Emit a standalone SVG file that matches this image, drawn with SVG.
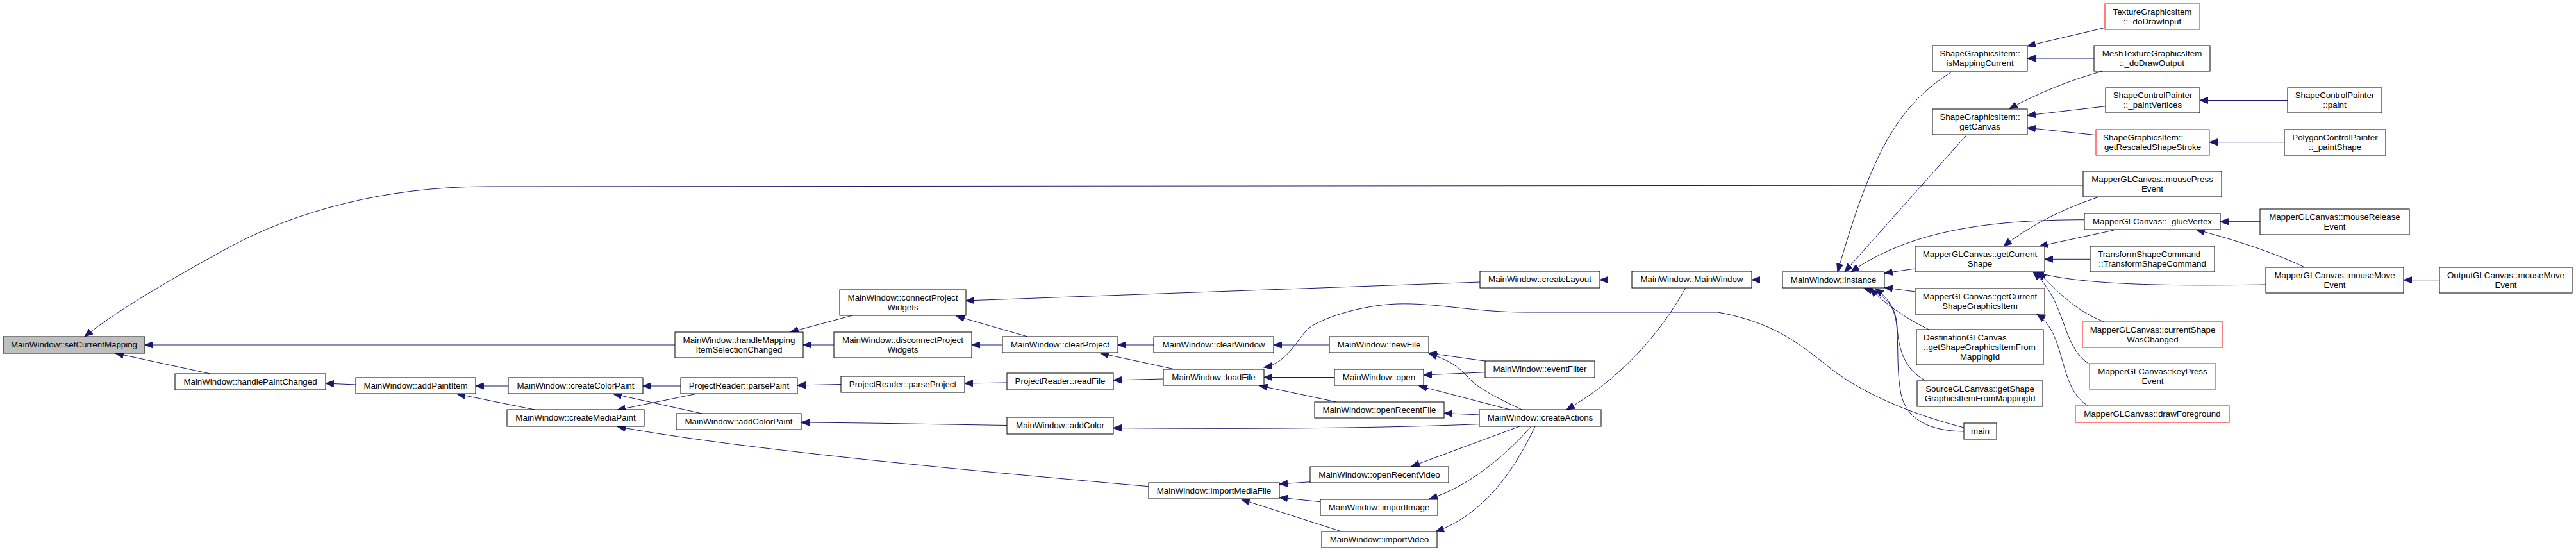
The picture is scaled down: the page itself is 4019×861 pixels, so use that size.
<svg xmlns="http://www.w3.org/2000/svg" width="4019" height="861" viewBox="0 0 4019 861">
<defs>
<style>
.n rect{fill:#fff;stroke:#000;stroke-width:1}
.r rect{stroke:#f00}
.g rect{fill:#bfbfbf}
text{font-family:"Liberation Sans",Arial,sans-serif;font-size:13.33px;fill:#000;text-anchor:middle}
text.l{text-anchor:start}
#edges path{fill:none;stroke:#191970;stroke-width:1;marker-end:url(#a)}
</style>
<marker id="a" markerUnits="userSpaceOnUse" markerWidth="14" markerHeight="11" refX="13" refY="5.5" viewBox="0 0 14 11" orient="auto">
<path d="M0.5,0.5 L13,5.5 L0.5,10.5 z" fill="#191970" stroke="#191970" stroke-width="1"/>
</marker>
</defs>
<rect width="4019" height="861" fill="#fff"/>
<g id="edges">
<path d="M1053,538 L226,538"/>
<path d="M328,583 L180,551"/>
<path d="M3250,289 L760,291 C600,291 460,330 357,386 C297,419 190,478 132,525"/>
<path d="M1330,492 L1233,518"/>
<path d="M1301,538 L1253,538"/>
<path d="M2309,440 L1507,469"/>
<path d="M1603,525 L1492,493"/>
<path d="M1564,538 L1516,538"/>
<path d="M1800,538 L1744,538"/>
<path d="M1833,576 L1717,551"/>
<path d="M2074,538 L1987,538"/>
<path d="M1571,597 L1505,598"/>
<path d="M1815,591 L1737,593"/>
<path d="M1312,599.5 L1244,601"/>
<path d="M1062,602 L1003,602"/>
<path d="M1088,614 L963,639.5"/>
<path d="M793,602 L742,602"/>
<path d="M834,639 L713,614.5"/>
<path d="M555,600 L508,598"/>
<path d="M1095,645 L957,614.5"/>
<path d="M1571,663.5 C1470,662 1350,659.5 1250,659"/>
<path d="M2308,661.6 C2150,668 1950,669.5 1737,667.5"/>
<path d="M1791.5,758.7 C1500,733 1150,700 963.4,665.5"/>
<path d="M2630,449 C2590,520 2530,590 2444,639"/>
<path d="M2546,436.5 L2496,436.5"/>
<path d="M2781,436.5 L2733,436.5"/>
<path d="M2319,563.4 L2229,550.8"/>
<path d="M2317,580.7 L2221,585"/>
<path d="M2375,639.3 C2330,618 2305,605 2290,588 C2275,572 2262,562 2229.5,551.5"/>
<path d="M2357,639.3 L2214,602"/>
<path d="M2308,647 L2253,644.5"/>
<path d="M2371,665 L2202,727.5"/>
<path d="M2389,665 C2350,710 2290,760 2230,778"/>
<path d="M2395,665 C2360,740 2310,805 2240,829"/>
<path d="M2044,751.7 L1996,755"/>
<path d="M2060,782.7 L1996,776"/>
<path d="M2093,829 L1937,779"/>
<path d="M2085,627 L1965,601.5"/>
<path d="M2082,588.5 L1972,588.5"/>
<path d="M3064,667 C2990,648 2920,620 2867,583 C2820,548 2780,505 2680,487 L2380,487 C2300,487 2240,472 2180,474 C2120,476 2060,498 2043,511 C2025,526 2010,566 1972,573"/>
<path d="M3064,673 C3010,672 2975,655 2966,615 C2958,575 2963,530 2958,500 C2953,470 2935,457 2908,450"/>
<path d="M3010,514.3 C2975,497 2945,478 2918,450"/>
<path d="M3003,593 C2975,578 2962,550 2960,510 C2958,480 2945,465 2926,450"/>
<path d="M3045.5,111.7 C2960,165 2920,240 2867,424"/>
<path d="M3068,210.7 L2878,424"/>
<path d="M3252,342.7 C3100,343 2980,360 2888,424"/>
<path d="M2988,419 L2940,426"/>
<path d="M2988,455 L2940,448.5"/>
<path d="M3284,43.3 L3163,71.7"/>
<path d="M3267,91 L3163,91"/>
<path d="M3280,111 C3230,125 3180,145 3135,169.5"/>
<path d="M3285,165.7 L3163,180"/>
<path d="M3270,210.7 L3163,199.3"/>
<path d="M3569,156.5 L3432,156.5"/>
<path d="M3564,221.7 L3447,221.7"/>
<path d="M3275,307 C3220,325 3170,350 3126,384"/>
<path d="M3298,359 L3182,384"/>
<path d="M3261,404.3 L3190,404.3"/>
<path d="M3535,444 C3400,446 3250,446 3176,424.5"/>
<path d="M3282,501.7 C3240,485 3215,460 3180,424.5"/>
<path d="M3260,568.3 C3215,540 3225,470 3172,424.5"/>
<path d="M3257.6,633 C3210,605 3225,520 3178,490.5"/>
<path d="M3526,345.7 L3464,345.7"/>
<path d="M3595,416.7 C3550,395 3490,375 3427,358.5"/>
<path d="M3806,436.7 L3750,436.7"/>
</g>
<g id="setCurrentMapping" class="n g"><rect x="5" y="525" width="221" height="26"/><text x="115.5" y="542.3">MainWindow::setCurrentMapping</text></g>
<g id="handlePaintChanged" class="n"><rect x="273" y="583" width="235" height="25"/><text x="390.5" y="599.8">MainWindow::handlePaintChanged</text></g>
<g id="addPaintItem" class="n"><rect x="555" y="589" width="187" height="25"/><text x="648.5" y="605.8">MainWindow::addPaintItem</text></g>
<g id="createColorPaint" class="n"><rect x="793" y="589" width="210" height="25"/><text x="898" y="605.8">MainWindow::createColorPaint</text></g>
<g id="createMediaPaint" class="n"><rect x="791" y="639" width="214" height="26"/><text x="898" y="656.3">MainWindow::createMediaPaint</text></g>
<g id="handleMappingItemSelectionChanged" class="n"><rect x="1053" y="518" width="200" height="40"/><text x="1153" y="534.8">MainWindow::handleMapping</text><text x="1153" y="549.8">ItemSelectionChanged</text></g>
<g id="parsePaint" class="n"><rect x="1062" y="589" width="182" height="25"/><text x="1153" y="605.8">ProjectReader::parsePaint</text></g>
<g id="addColorPaint" class="n"><rect x="1055" y="645" width="195" height="25"/><text x="1152.5" y="661.8">MainWindow::addColorPaint</text></g>
<g id="connectProjectWidgets" class="n"><rect x="1310" y="452" width="197" height="40"/><text x="1408.5" y="468.8">MainWindow::connectProject</text><text x="1408.5" y="483.8">Widgets</text></g>
<g id="disconnectProjectWidgets" class="n"><rect x="1301" y="518" width="215" height="40"/><text x="1408.5" y="534.8">MainWindow::disconnectProject</text><text x="1408.5" y="549.8">Widgets</text></g>
<g id="parseProject" class="n"><rect x="1312" y="587" width="193" height="25"/><text x="1408.5" y="603.8">ProjectReader::parseProject</text></g>
<g id="clearProject" class="n"><rect x="1564" y="525" width="180" height="25"/><text x="1654" y="541.8">MainWindow::clearProject</text></g>
<g id="readFile" class="n"><rect x="1571" y="582" width="166" height="26"/><text x="1654" y="599.3">ProjectReader::readFile</text></g>
<g id="addColor" class="n"><rect x="1571" y="651" width="166" height="26"/><text x="1654" y="668.3">MainWindow::addColor</text></g>
<g id="clearWindow" class="n"><rect x="1800" y="525" width="187" height="25"/><text x="1893.5" y="541.8">MainWindow::clearWindow</text></g>
<g id="loadFile" class="n"><rect x="1815" y="576" width="157" height="25"/><text x="1893.5" y="592.8">MainWindow::loadFile</text></g>
<g id="importMediaFile" class="n"><rect x="1792" y="753" width="204" height="25"/><text x="1894" y="769.8">MainWindow::importMediaFile</text></g>
<g id="newFile" class="n"><rect x="2074" y="525" width="155" height="25"/><text x="2151.5" y="541.8">MainWindow::newFile</text></g>
<g id="open" class="n"><rect x="2082" y="576" width="139" height="25"/><text x="2151.5" y="592.8">MainWindow::open</text></g>
<g id="openRecentFile" class="n"><rect x="2051" y="627" width="202" height="25"/><text x="2152" y="643.8">MainWindow::openRecentFile</text></g>
<g id="openRecentVideo" class="n"><rect x="2044" y="728" width="216" height="25"/><text x="2152" y="744.8">MainWindow::openRecentVideo</text></g>
<g id="importImage" class="n"><rect x="2060" y="779" width="183" height="25"/><text x="2151.5" y="795.8">MainWindow::importImage</text></g>
<g id="importVideo" class="n"><rect x="2062" y="829" width="180" height="25"/><text x="2152" y="845.8">MainWindow::importVideo</text></g>
<g id="eventFilter" class="n"><rect x="2317" y="563" width="171" height="26"/><text x="2402.5" y="580.3">MainWindow::eventFilter</text></g>
<g id="createActions" class="n"><rect x="2308" y="639" width="190" height="26"/><text x="2403" y="656.3">MainWindow::createActions</text></g>
<g id="createLayout" class="n"><rect x="2309" y="423" width="187" height="26"/><text x="2402.5" y="440.3">MainWindow::createLayout</text></g>
<g id="MainWindowCtor" class="n"><rect x="2546" y="423" width="187" height="26"/><text x="2639.5" y="440.3">MainWindow::MainWindow</text></g>
<g id="instance" class="n"><rect x="2781" y="424" width="159" height="25"/><text x="2860.5" y="440.8">MainWindow::instance</text></g>
<g id="isMappingCurrent" class="n"><rect x="3015" y="71" width="148" height="40"/><text x="3089" y="87.8">ShapeGraphicsItem::</text><text x="3089" y="102.8">isMappingCurrent</text></g>
<g id="getCanvas" class="n"><rect x="3015" y="170" width="148" height="40"/><text x="3089" y="186.8">ShapeGraphicsItem::</text><text x="3089" y="201.8">getCanvas</text></g>
<g id="getCurrentShape" class="n"><rect x="2988" y="384" width="202" height="40"/><text x="3089" y="400.8">MapperGLCanvas::getCurrent</text><text x="3089" y="415.8">Shape</text></g>
<g id="getCurrentShapeGraphicsItem" class="n"><rect x="2988" y="450" width="202" height="40"/><text x="3089" y="466.8">MapperGLCanvas::getCurrent</text><text x="3089" y="481.8">ShapeGraphicsItem</text></g>
<g id="destGetShape" class="n"><rect x="2990" y="514" width="198" height="55"/><text class="l" x="3001" y="530.8">DestinationGLCanvas</text><text class="l" x="3001" y="545.8">::getShapeGraphicsItemFrom</text><text x="3089" y="560.8">MappingId</text></g>
<g id="srcGetShape" class="n"><rect x="2991" y="594" width="196" height="40"/><text x="3089" y="610.8">SourceGLCanvas::getShape</text><text x="3089" y="625.8">GraphicsItemFromMappingId</text></g>
<g id="main" class="n"><rect x="3064" y="660" width="51" height="25"/><text x="3089.5" y="676.8">main</text></g>
<g id="doDrawInput" class="n r"><rect x="3284" y="6" width="148" height="40"/><text x="3358" y="22.8">TextureGraphicsItem</text><text x="3358" y="37.8">::_doDrawInput</text></g>
<g id="doDrawOutput" class="n"><rect x="3267" y="71" width="181" height="40"/><text x="3357.5" y="87.8">MeshTextureGraphicsItem</text><text x="3357.5" y="102.8">::_doDrawOutput</text></g>
<g id="paintVertices" class="n"><rect x="3285" y="137" width="147" height="39"/><text x="3358.5" y="153.3">ShapeControlPainter</text><text x="3358.5" y="168.3">::_paintVertices</text></g>
<g id="getRescaledShapeStroke" class="n r"><rect x="3270" y="202" width="177" height="40"/><text class="l" x="3281" y="218.8">ShapeGraphicsItem::</text><text x="3358.5" y="233.8">getRescaledShapeStroke</text></g>
<g id="mousePressEvent" class="n"><rect x="3250" y="267" width="216" height="40"/><text x="3358" y="283.8">MapperGLCanvas::mousePress</text><text x="3358" y="298.8">Event</text></g>
<g id="glueVertex" class="n"><rect x="3252" y="333" width="212" height="25"/><text x="3358" y="349.8">MapperGLCanvas::_glueVertex</text></g>
<g id="transformShapeCommand" class="n"><rect x="3261" y="384" width="194" height="40"/><text class="l" x="3273" y="400.8">TransformShapeCommand</text><text x="3358" y="415.8">::TransformShapeCommand</text></g>
<g id="currentShapeWasChanged" class="n r"><rect x="3249" y="502" width="219" height="40"/><text x="3358.5" y="518.8">MapperGLCanvas::currentShape</text><text x="3358.5" y="533.8">WasChanged</text></g>
<g id="keyPressEvent" class="n r"><rect x="3260" y="567" width="197" height="40"/><text x="3358.5" y="583.8">MapperGLCanvas::keyPress</text><text x="3358.5" y="598.8">Event</text></g>
<g id="drawForeground" class="n r"><rect x="3238" y="633" width="240" height="26"/><text x="3358" y="650.3">MapperGLCanvas::drawForeground</text></g>
<g id="controlPaint" class="n"><rect x="3569" y="137" width="147" height="39"/><text x="3642.5" y="153.3">ShapeControlPainter</text><text x="3642.5" y="168.3">::paint</text></g>
<g id="paintShape" class="n"><rect x="3564" y="202" width="158" height="40"/><text x="3643" y="218.8">PolygonControlPainter</text><text x="3643" y="233.8">::_paintShape</text></g>
<g id="mouseReleaseEvent" class="n"><rect x="3526" y="326" width="233" height="40"/><text x="3642.5" y="342.8">MapperGLCanvas::mouseRelease</text><text x="3642.5" y="357.8">Event</text></g>
<g id="mouseMoveEvent" class="n"><rect x="3535" y="417" width="215" height="40"/><text x="3642.5" y="433.8">MapperGLCanvas::mouseMove</text><text x="3642.5" y="448.8">Event</text></g>
<g id="outputMouseMoveEvent" class="n"><rect x="3806" y="417" width="207" height="40"/><text x="3909.5" y="433.8">OutputGLCanvas::mouseMove</text><text x="3909.5" y="448.8">Event</text></g>
</svg>
